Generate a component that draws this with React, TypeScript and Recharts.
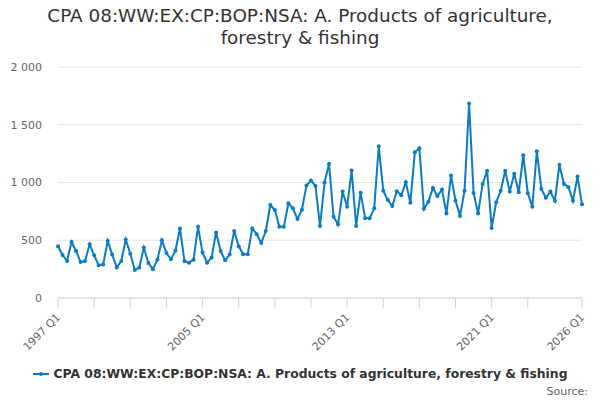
import { LineChart, Line, XAxis, YAxis, CartesianGrid } from 'recharts';

const startYear = 1997;
const quarterLabels = ['Q1', 'Q2', 'Q3', 'Q4'];

// quarterly values, 1997 Q1 .. 2026 Q1
const values = [
  448, 372, 320, 485, 407, 311, 320, 465, 370, 283,
  291, 494, 376, 263, 320, 506, 384, 242, 263, 436,
  303, 250, 332, 500, 390, 335, 410, 602, 320, 306,
  332, 616, 393, 306, 350, 567, 407, 326, 376, 581,
  448, 379, 379, 602, 552, 477, 581, 805, 761, 616,
  616, 820, 776, 683, 765, 975, 1017, 970, 624, 999,
  1162, 703, 636, 921, 790, 1104, 624, 912, 691, 691,
  776, 1313, 929, 848, 796, 924, 889, 1003, 825, 1261,
  1296, 772, 834, 953, 883, 940, 732, 1060, 842, 711,
  929, 1685, 909, 732, 988, 1101, 607, 828, 929, 1101,
  921, 1075, 915, 1235, 907, 790, 1270, 944, 868, 921,
  842, 1153, 988, 959, 842, 1051, 811,
];

const periods = values.map(
  (_, i) => `${startYear + Math.floor(i / 4)} ${quarterLabels[i % 4]}`
);

const tickPeriods = [
  '1997 Q1', '1999 Q1', '2001 Q1', '2003 Q1', '2005 Q1', '2007 Q1', '2009 Q1',
  '2011 Q1', '2013 Q1', '2015 Q1', '2017 Q1', '2019 Q1', '2021 Q1', '2023 Q1',
  '2026 Q1',
];
const labelledPeriods = ['1997 Q1', '2005 Q1', '2013 Q1', '2021 Q1', '2026 Q1'];

const yTicks = [0, 500, 1000, 1500, 2000];

const seriesName = 'CPA 08:WW:EX:CP:BOP:NSA: A. Products of agriculture, forestry & fishing';
const titleLines = ['CPA 08:WW:EX:CP:BOP:NSA: A. Products of agriculture,', 'forestry & fishing'];

const data = periods.map((period, i) => ({ period, value: values[i] }));

const font = '"DejaVu Sans", Verdana, sans-serif';
const lineColor = '#0a7cc4';

const fmtThousands = (v: number) => String(v).replace(/\B(?=(\d{3})+(?!\d))/g, ' ');

function XTick(props: any) {
  const { x, y, payload } = props;
  if (!labelledPeriods.includes(payload.value)) return null;
  const tx = x + 3;
  const ty = y + 8;
  return (
    <text
      x={tx}
      y={ty}
      transform={`rotate(-45, ${tx}, ${ty})`}
      textAnchor="end"
      fill="#666666"
      fontSize={11}
      fontFamily={font}
    >
      {payload.value}
    </text>
  );
}

export default function App() {
  return (
    <div
      style={{
        position: 'absolute',
        left: 0,
        top: 0,
        width: 600,
        height: 400,
        background: '#fff',
        fontFamily: font,
      }}
    >
      <div
        style={{
          position: 'absolute',
          top: 5,
          left: 0,
          width: 600,
          textAlign: 'center',
          fontSize: 18.4,
          lineHeight: '22px',
          color: '#333333',
        }}
      >
        {titleLines.map((t) => (
          <div key={t}>{t}</div>
        ))}
      </div>

      <LineChart
        width={600}
        height={400}
        data={data}
        margin={{ top: 67, right: 18, bottom: 0, left: 8 }}
      >
        <CartesianGrid vertical={false} stroke="#e6e6e6" />
        <XAxis
          dataKey="period"
          ticks={tickPeriods}
          interval={0}
          tick={<XTick />}
          stroke="#ccd6eb"
          tickLine={{ stroke: '#ccd6eb' }}
          tickSize={10}
          height={102}
        />
        <YAxis
          domain={[0, 2000]}
          ticks={yTicks}
          width={50}
          axisLine={false}
          tickLine={false}
          tickSize={0}
          tickMargin={16}
          tickFormatter={fmtThousands}
          tick={{ fill: '#666666', fontSize: 11, fontFamily: font }}
        />
        <Line
          type="linear"
          dataKey="value"
          name={seriesName}
          stroke={lineColor}
          strokeWidth={2}
          dot={{ r: 2, fill: lineColor, stroke: lineColor, strokeWidth: 0 }}
          isAnimationActive={false}
        />
      </LineChart>

      <div
        style={{
          position: 'absolute',
          top: 367,
          left: 0,
          width: 600,
          display: 'flex',
          justifyContent: 'center',
          alignItems: 'center',
          fontSize: 12.35,
          fontWeight: 'bold',
          color: '#333333',
        }}
      >
        <svg width={16} height={10} style={{ marginRight: 5 }}>
          <line x1={0} y1={5} x2={16} y2={5} stroke={lineColor} strokeWidth={2} />
          <circle cx={8} cy={5} r={2} fill={lineColor} />
        </svg>
        <span>{seriesName}</span>
      </div>

      <div
        style={{
          position: 'absolute',
          top: 385,
          right: 12,
          fontSize: 11,
          color: '#666666',
        }}
      >
        Source:
      </div>
    </div>
  );
}
